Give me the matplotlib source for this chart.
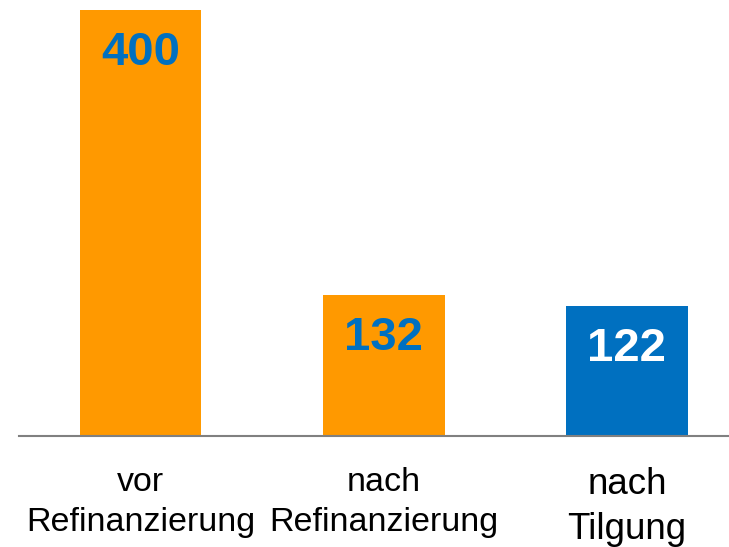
import matplotlib
matplotlib.use("Agg")
import matplotlib.pyplot as plt
from matplotlib.transforms import blended_transform_factory

categories = ["vor\nRefinanzierung", "nach\nRefinanzierung", "nach\nTilgung"]
values = [400, 132, 122]
bar_colors = ["#FF9900", "#FF9900", "#0070C0"]
value_colors = ["#0070C0", "#0070C0", "#FFFFFF"]
label_sizes = [24.5, 24.5, 26.5]

plt.rcParams['font.family'] = ['Liberation Sans', 'DejaVu Sans']

fig = plt.figure(figsize=(7.29, 5.47), dpi=100)
ax = fig.add_axes([19/729, 1 - 436/547, 710/729, 436/547])

x = list(range(len(values)))
ax.bar(x, values, width=0.5, color=bar_colors, zorder=2)
ax.set_xlim(-0.5, 2.42)
ax.set_ylim(0, 409.5)

for xi, v, c in zip(x, values, value_colors):
    ax.annotate(str(v), xy=(xi, v), xytext=(0, -43), textcoords='offset pixels',
                ha='center', va='center', fontsize=34, fontweight='bold', color=c)

for s in ['top', 'right', 'left']:
    ax.spines[s].set_visible(False)
ax.spines['bottom'].set_color('#808080')
ax.spines['bottom'].set_linewidth(1.5)
ax.set_yticks([])
ax.set_xticks([])

trans = blended_transform_factory(ax.transData, ax.transAxes)
for xi, lab, fs in zip(x, categories, label_sizes):
    ax.annotate(lab, xy=(xi, 0), xycoords=trans, xytext=(0, -31), textcoords='offset pixels',
                ha='center', va='top', fontsize=fs, color='black', linespacing=1.38)

fig.savefig("out.png", dpi=100)
